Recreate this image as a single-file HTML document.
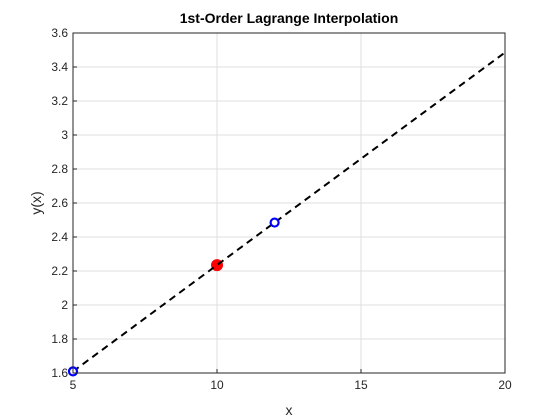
<!DOCTYPE html>
<html><head><meta charset="utf-8"><style>body{margin:0;background:#fff}svg{display:block;font-family:"Liberation Sans",Arial,sans-serif}</style></head>
<body>
<svg id="chart" width="560" height="420">
<rect x="0" y="0" width="560" height="420" fill="#fff"/>
<rect x="73" y="33" width="432" height="340" fill="#fff"/>
<g id="grid"></g>
<g id="ticks"></g>
<g id="marks"></g>
<rect x="73" y="33" width="432" height="340" fill="none" stroke="#262626" stroke-width="1"/>
<text x="289" y="23" text-anchor="middle" font-size="14" font-weight="bold" fill="#000">1st-Order Lagrange Interpolation</text>
<text x="289" y="415" text-anchor="middle" font-size="14" fill="#262626">x</text>
<text transform="translate(41,203) rotate(-90)" text-anchor="middle" font-size="14" fill="#262626">y(x)</text>
</svg>
<script>
const xTicks=[5,10,15,20];
const yTicks=[1.6,1.8,2,2.2,2.4,2.6,2.8,3,3.2,3.4,3.6];
const yTickLabels=["1.6","1.8","2","2.2","2.4","2.6","2.8","3","3.2","3.4","3.6"];
const nodeX=[5,12];
const nodeY=[1.6094,2.4849];
const lineX=[5,20];
const lineY=[1.6094,3.4855];
const estX=[10];
const estY=[2.2348];
const X0=73,X1=505,Y0=373,Y1=33;
const sx=v=>X0+(v-5)/(20-5)*(X1-X0);
const sy=v=>Y0-(v-1.6)/(3.6-1.6)*(Y0-Y1);
const NS="http://www.w3.org/2000/svg";
function mk(t,a,p){const e=document.createElementNS(NS,t);for(const k in a)e.setAttribute(k,a[k]);p.appendChild(e);return e;}
const grid=document.getElementById('grid'),ticks=document.getElementById('ticks'),marks=document.getElementById('marks');
xTicks.forEach(v=>{
const g=mk('line',{x1:sx(v),x2:sx(v),y1:Y1,y2:Y0,stroke:'#dfdfdf','stroke-width':1},grid);


const tm=mk('line',{x1:sx(v),x2:sx(v),y1:Y0,y2:Y0-4,stroke:'#262626'},ticks);


const t=mk('text',{x:sx(v),y:Y0+16,'text-anchor':'middle','font-size':12,fill:'#262626'},ticks);
t.textContent=v;


});
yTicks.forEach((v,i)=>{
const g=mk('line',{x1:X0,x2:X1,y1:sy(v),y2:sy(v),stroke:'#dfdfdf','stroke-width':1},grid);


const tm=mk('line',{x1:X0,x2:X0+4,y1:sy(v),y2:sy(v),stroke:'#262626'},ticks);


const t=mk('text',{x:X0-5,y:sy(v)+4,'text-anchor':'end','font-size':12,fill:'#262626'},ticks);
t.textContent=yTickLabels[i];


});
estX.forEach((v,i)=>{
const c=mk('circle',{cx:sx(v),cy:sy(estY[i]),r:6,fill:'#ff0000'},marks);


});
const ln=mk('line',{x1:sx(lineX[0]),y1:sy(lineY[0]),x2:sx(lineX[1]),y2:sy(lineY[1]),stroke:'#000','stroke-width':2,'stroke-dasharray':'7,5'},marks);


nodeX.forEach((v,i)=>{
const c=mk('circle',{cx:sx(v),cy:sy(nodeY[i]),r:4,fill:'#fff',stroke:'#0000ff','stroke-width':2.2},marks);


});
</script>
</body></html>
